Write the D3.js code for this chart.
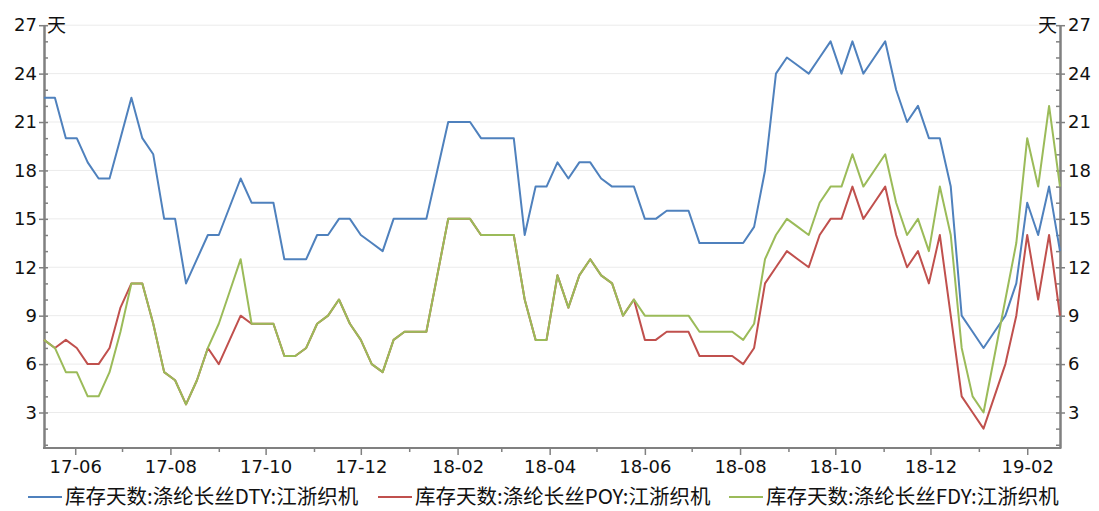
<!DOCTYPE html>
<html>
<head>
<meta charset="utf-8">
<script src="https://cdn.jsdelivr.net/npm/d3@7"></script>
<style>
  body { margin: 0; background: #fff; }
  svg { display: block; }
</style>
</head>
<body>
<svg id="chart" width="1099" height="511"></svg>
<script>
// Weekly inventory days of polyester filament (Jiangsu/Zhejiang weaving mills)
const firstWeek = "2017-05-12";

const dty = [22.5, 22.5, 20, 20, 18.5, 17.5, 17.5, 20, 22.5, 20,
             19, 15, 15, 11, 12.5, 14, 14, 15.75, 17.5, 16,
             16, 16, 12.5, 12.5, 12.5, 14, 14, 15, 15, 14,
             13.5, 13, 15, 15, 15, 15, 18, 21, 21, 21,
             20, 20, 20, 20, 14, 17, 17, 18.5, 17.5, 18.5,
             18.5, 17.5, 17, 17, 17, 15, 15, 15.5, 15.5, 15.5,
             13.5, 13.5, 13.5, 13.5, 13.5, 14.5, 18, 24, 25, 24.5,
             24, 25, 26, 24, 26, 24, 25, 26, 23, 21,
             22, 20, 20, 17, 9, 8, 7, 8, 9, 11,
             16, 14, 17, 13];

const poy = [7.5, 7, 7.5, 7, 6, 6, 7, 9.5, 11, 11,
             8.5, 5.5, 5, 3.5, 5, 7, 6, 7.5, 9, 8.5,
             8.5, 8.5, 6.5, 6.5, 7, 8.5, 9, 10, 8.5, 7.5,
             6, 5.5, 7.5, 8, 8, 8, 11.5, 15, 15, 15,
             14, 14, 14, 14, 10, 7.5, 7.5, 11.5, 9.5, 11.5,
             12.5, 11.5, 11, 9, 10, 7.5, 7.5, 8, 8, 8,
             6.5, 6.5, 6.5, 6.5, 6, 7, 11, 12, 13, 12.5,
             12, 14, 15, 15, 17, 15, 16, 17, 14, 12,
             13, 11, 14, 9, 4, 3, 2, 4, 6, 9,
             14, 10, 14, 9];

const fdy = [7.5, 7, 5.5, 5.5, 4, 4, 5.5, 8, 11, 11,
             8.5, 5.5, 5, 3.5, 5, 7, 8.5, 10.5, 12.5, 8.5,
             8.5, 8.5, 6.5, 6.5, 7, 8.5, 9, 10, 8.5, 7.5,
             6, 5.5, 7.5, 8, 8, 8, 11.5, 15, 15, 15,
             14, 14, 14, 14, 10, 7.5, 7.5, 11.5, 9.5, 11.5,
             12.5, 11.5, 11, 9, 10, 9, 9, 9, 9, 9,
             8, 8, 8, 8, 7.5, 8.5, 12.5, 14, 15, 14.5,
             14, 16, 17, 17, 19, 17, 18, 19, 16, 14,
             15, 13, 17, 14, 7, 4, 3, 6.5, 10, 13.5,
             20, 17, 22, 17];

const seriesNames = ["库存天数:涤纶长丝DTY:江浙织机",
                     "库存天数:涤纶长丝POY:江浙织机",
                     "库存天数:涤纶长丝FDY:江浙织机"];
const seriesColors = ["#4f81bd", "#c0504d", "#9bbb59"];
const yMajorTicks = [3, 6, 9, 12, 15, 18, 21, 24, 27];
const unitLabel = "天";

// ---- scales ----
const parse = d3.timeParse("%Y-%m-%d");
const start = parse(firstWeek);
const dates = dty.map((_, i) => d3.timeDay.offset(start, 7 * i));

const plotLeft = 44, plotRight = 1060, plotTop = 25.2, plotBottom = 448;
const x = d3.scaleTime().domain([dates[0], dates[dates.length - 1]]).range([plotLeft, plotRight]);
const y = d3.scaleLinear().domain([0.8, 27]).range([plotBottom, plotTop]);

const svg = d3.select("#chart");
const axisColor = "#808080";
const fontFamily = "'DejaVu Sans', sans-serif";
const cjkFamily = "'Noto Sans CJK SC', sans-serif";

// ---- horizontal grid ----
svg.append("g").selectAll("line").data(yMajorTicks).join("line")
  .attr("x1", plotLeft).attr("x2", plotRight)
  .attr("y1", d => y(d)).attr("y2", d => y(d))
  .attr("stroke", "#ebebeb").attr("stroke-width", 1);

// ---- y axes (left and right) ----
const minorTicks = d3.range(1, 28);

function styleAxis(g) {
  g.selectAll(".domain").attr("stroke", axisColor).attr("stroke-width", 2);
  g.selectAll(".tick line").attr("stroke", axisColor).attr("stroke-width", 1.5);
  g.selectAll(".tick text").attr("fill", "#111").style("font-family", fontFamily).style("font-size", "18px");
}

// left: majors outward with labels, all integer ticks inward
svg.append("g").attr("transform", `translate(${plotLeft},0)`)
  .call(d3.axisRight(y).tickValues(minorTicks).tickSize(4).tickSizeOuter(0).tickFormat(""))
  .call(styleAxis);
svg.append("g").attr("transform", `translate(${plotLeft},0)`)
  .call(d3.axisLeft(y).tickValues(yMajorTicks).tickSize(5).tickSizeOuter(0).tickPadding(2).tickFormat(d3.format("d")))
  .call(styleAxis);

// right
svg.append("g").attr("transform", `translate(${plotRight},0)`)
  .call(d3.axisLeft(y).tickValues(minorTicks).tickSize(4).tickSizeOuter(0).tickFormat(""))
  .call(styleAxis);
svg.append("g").attr("transform", `translate(${plotRight},0)`)
  .call(d3.axisRight(y).tickValues(yMajorTicks).tickSize(5).tickSizeOuter(0).tickPadding(3).tickFormat(d3.format("d")))
  .call(styleAxis);

// unit labels
svg.append("text").attr("x", plotLeft + 3).attr("y", 32)
  .style("font-family", cjkFamily).style("font-size", "19px")
  .attr("fill", "#111").text(unitLabel);
svg.append("text").attr("x", plotRight - 3).attr("y", 32).attr("text-anchor", "end")
  .style("font-family", cjkFamily).style("font-size", "19px")
  .attr("fill", "#111").text(unitLabel);

// ---- x axis ----
const monthTicks = d3.timeMonth.range(d3.timeMonth.ceil(dates[0]), dates[dates.length - 1]);
const labelled = d => d.getMonth() % 2 === 1;
const fmt = d3.timeFormat("%y-%m");
const xAxis = svg.append("g").attr("transform", `translate(0,${plotBottom})`)
  .call(d3.axisBottom(x).tickValues(monthTicks).tickSize(7).tickSizeOuter(0)
        .tickFormat(d => labelled(d) ? fmt(d) : ""))
  .call(styleAxis);
xAxis.selectAll(".tick line").attr("y2", d => labelled(d) ? 7 : 4);
xAxis.selectAll(".tick text").attr("y", 12);
xAxis.select(".domain").attr("d", `M${plotLeft - 1},0H${plotRight + 1}`);

// ---- lines ----
const seriesValues = [dty, poy, fdy];
const line = d3.line().x((d, i) => x(dates[i])).y(d => y(d));
svg.append("g").selectAll("path").data(seriesValues).join("path")
  .attr("d", d => line(d))
  .attr("fill", "none")
  .attr("stroke", (d, i) => seriesColors[i])
  .attr("stroke-width", 2)
  .attr("stroke-linejoin", "round");

// ---- legend ----
const legendX = [28, 378, 729];
const legend = svg.append("g").selectAll("g").data(seriesNames).join("g")
  .attr("transform", (d, i) => `translate(${legendX[i]},497)`);
legend.append("line").attr("x1", 0).attr("x2", 34).attr("y1", 0).attr("y2", 0)
  .attr("stroke", (d, i) => seriesColors[i]).attr("stroke-width", 2);
legend.append("text").attr("x", 37).attr("y", 7)
  .style("font-family", cjkFamily).style("font-size", "20.5px")
  .attr("fill", "#111").text(d => d);
</script>
</body>
</html>
